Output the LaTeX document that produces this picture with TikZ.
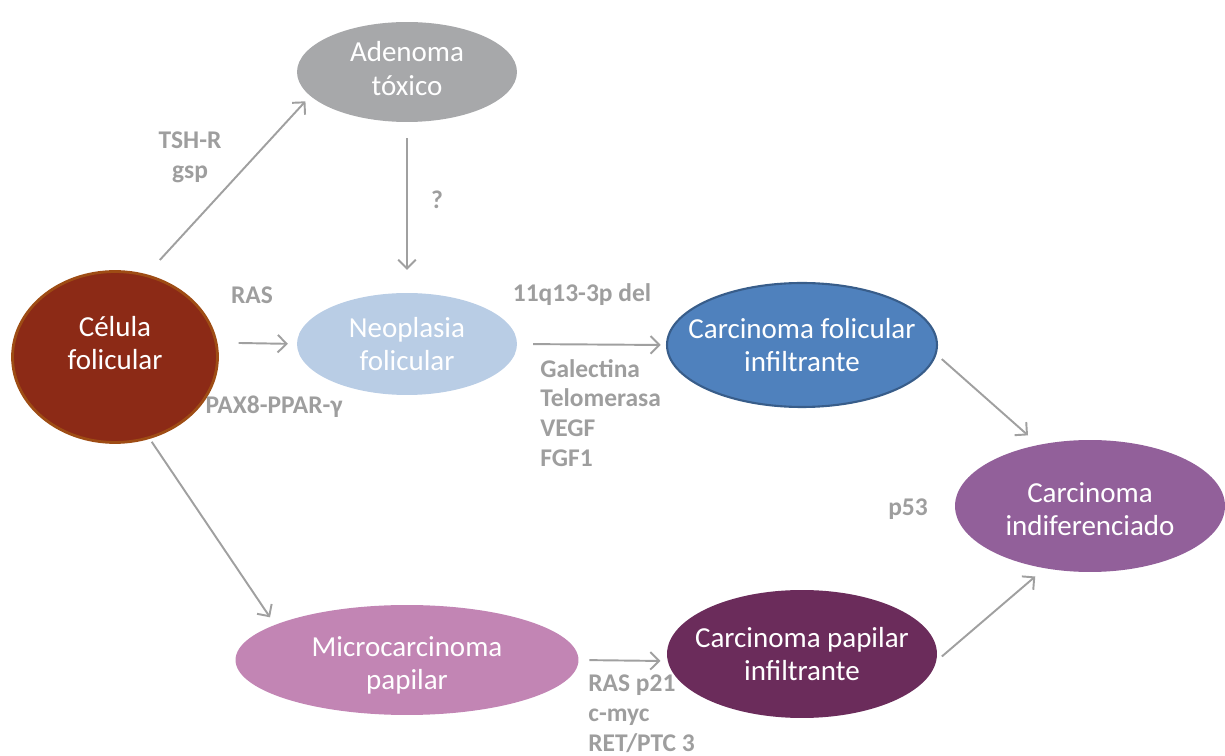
\documentclass[tikz,border=0pt]{standalone}
\usepackage{fontspec}
\setmainfont{Carlito}
\usetikzlibrary{shapes.geometric,arrows.meta}

\definecolor{celred}{RGB}{140,42,22}
\definecolor{celedge}{RGB}{158,76,20}
\definecolor{adengray}{RGB}{167,168,170}
\definecolor{neoblue}{RGB}{185,205,229}
\definecolor{cfiblue}{RGB}{79,129,189}
\definecolor{cfiedge}{RGB}{56,93,138}
\definecolor{cindpurple}{RGB}{146,96,154}
\definecolor{micropink}{RGB}{194,133,180}
\definecolor{cpiplum}{RGB}{107,44,91}
\definecolor{conngray}{RGB}{160,160,160}
\definecolor{lblgray}{RGB}{158,158,158}

\begin{document}
\begin{tikzpicture}[x=0.02cm, y=-0.02cm,
    cell/.style={ellipse, inner sep=0pt},
    celltext/.style={text=white, align=center, inner sep=0pt, font=\fontsize{16.5}{19}\selectfont},
    conn/.style={draw=conngray, line width=1.1pt,
        -{Straight Barb[length=5pt, width=10pt, line width=1.1pt]}},
    lbl/.style={text=lblgray, inner sep=0pt, align=left, font=\bfseries\fontsize{14.5}{17}\selectfont}]
        \useasboundingbox (0,0) rectangle (1225,756);

        \node[cell, fill=celred, draw=celedge, line width=1.6pt,
            minimum width=4.1cm, minimum height=3.42cm,
            label={[celltext, yshift=8pt]center:Célula\\folicular}] (cel) at (115,357) {};
        \node[cell, fill=adengray, minimum width=4.4cm, minimum height=2cm,
            label={[celltext, yshift=2pt]center:Adenoma\\tóxico}] (aden) at (407,72) {};
        \node[cell, fill=neoblue, minimum width=4.4cm, minimum height=2.04cm,
            label={[celltext]center:Neoplasia\\folicular}] (neo) at (407,344) {};
        \node[cell, fill=cfiblue, draw=cfiedge, line width=1.2pt,
            minimum width=5.4cm, minimum height=2.48cm,
            label={[celltext]center:Carcinoma folicular\\infiltrante}] (cfi) at (802,345) {};
        \node[cell, fill=cindpurple, minimum width=5.4cm, minimum height=2.64cm,
            label={[celltext, yshift=-1.7pt]center:Carcinoma\\indiferenciado}] (cind) at (1090,506) {};
        \node[cell, fill=micropink, minimum width=6.86cm, minimum height=2.2cm,
            label={[celltext, yshift=-3pt]center:Microcarcinoma\\papilar}] (micro) at (407,660) {};
        \node[cell, fill=cpiplum, minimum width=5.4cm, minimum height=2.56cm,
            label={[celltext]center:Carcinoma papilar\\infiltrante}] (cpi) at (802,654) {};

        \draw[conn, shorten <=11pt, shorten >=4pt] (cel.69) -- (aden.194);
        \draw[conn, shorten <=9pt, shorten >=13pt] (aden.south) -- (neo.north);
        \draw[conn, shorten <=12pt, shorten >=5pt] (cel.8) -- (neo.west);
        \draw[conn, shorten <=9pt, shorten >=3pt] (neo.east) -- (cfi.west);
        \draw[conn, shorten <=4pt, shorten >=8pt] (cfi.-4) -- (cind.130);
        \draw[conn, shorten <=4pt, shorten >=7pt] (cpi.-3) -- (cind.234);
        \draw[conn, shorten <=2pt, shorten >=5pt] (cel.-67) -- (micro.165);
        \draw[conn, shorten <=6pt, shorten >=4pt] (micro.east) -- (cpi.183);

        \node[lbl, align=center] (tsh) at (190,157) {TSH-R\\gsp};
        \node[lbl] (quest) at (437,200) {?};
        \node[lbl] (ras) at (252,295) {RAS};
        \node[lbl] (pax) at (274,407) {PAX8-PPAR-γ};
        \node[lbl] (del) at (582,295) {11q13-3p del};
        \node[lbl, anchor=west] (gal) at (540,413) {Galectina\\Telomerasa\\VEGF\\FGF1};
        \node[lbl] (p53) at (908,509) {p53};
        \node[lbl, anchor=west] (rasp) at (588,714) {RAS p21\\c-myc\\RET/PTC 3};
\end{tikzpicture}
\end{document}
